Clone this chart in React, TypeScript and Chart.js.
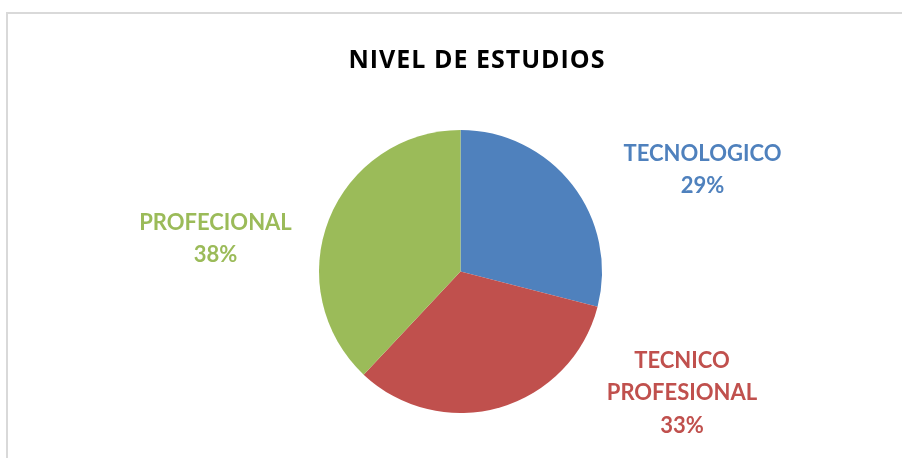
import React, { useEffect, useRef } from "react";
import { Chart, registerables } from "chart.js";

Chart.register(...registerables);

const TITLE = "NIVEL DE ESTUDIOS";
const categories = ["TECNOLOGICO", "TECNICO PROFESIONAL", "PROFECIONAL"];
const labelLines = [["TECNOLOGICO"], ["TECNICO", "PROFESIONAL"], ["PROFECIONAL"]];
const values = [29, 33, 38];
const colors = ["#4F81BD", "#C0504D", "#9BBB59"];

// label placement relative to the pie centre (x offset, first baseline offset)
const LABEL_OFFSETS: [number, number][] = [
  [242, -110.5],
  [221.5, 96.5],
  [-245, -41.5],
];
const LINE_GAP = 32.3;
const FONT = "Lato, 'Open Sans', sans-serif";
const TITLE_FONT = "'Open Sans', Lato, sans-serif";

const labelPlugin = {
  id: "outerLabels",
  afterDatasetsDraw(chart: any) {
    const ctx = chart.ctx;
    const meta = chart.getDatasetMeta(0);
    const total = values.reduce((a, b) => a + b, 0);
    ctx.save();
    // title
    ctx.fillStyle = "#000000";
    ctx.font = `bold 25px ${TITLE_FONT}`;
    ctx.textAlign = "center";
    ctx.textBaseline = "alphabetic";
    try {
      ctx.letterSpacing = "1px";
    } catch (e) {}
    ctx.fillText(TITLE, 477, 67.5);
    try {
      ctx.letterSpacing = "0px";
    } catch (e) {}
    meta.data.forEach((arc: any, i: number) => {
      const cx = arc.x;
      const cy = arc.y;
      const [dx, dy] = LABEL_OFFSETS[i];
      const lines = [...labelLines[i], `${Math.round((values[i] / total) * 100)}%`];
      ctx.fillStyle = colors[i];
      ctx.font = `bold 22px ${FONT}`;
      lines.forEach((ln, j) => {
        ctx.fillText(ln, cx + dx, cy + dy + j * LINE_GAP);
      });
    });
    ctx.restore();
  },
};

export default function App() {
  const ref = useRef<HTMLCanvasElement>(null);
  useEffect(() => {
    document.body.style.margin = "0";
    const chart = new Chart(ref.current!, {
      type: "pie",
      data: {
        labels: categories,
        datasets: [
          {
            data: values,
            backgroundColor: colors,
            borderWidth: 0,
          },
        ],
      },
      options: {
        responsive: false,
        animation: false,
        layout: { padding: { top: 130, bottom: 45, left: 200, right: 181 } },
        plugins: {
          legend: { display: false },
          title: { display: false },
          tooltip: { enabled: false },
        },
      },
      plugins: [labelPlugin],
    });
    return () => chart.destroy();
  }, []);
  return (
    <div style={{ position: "relative", width: 902, height: 458, background: "#fff", overflow: "hidden" }}>
      <div
        style={{
          position: "absolute",
          left: 6,
          top: 12,
          width: 920,
          height: 480,
          border: "2px solid #d9d9d9",
          boxSizing: "border-box",
        }}
      />
      <canvas ref={ref} width={902} height={458} style={{ position: "absolute", left: 0, top: 0 }} />
    </div>
  );
}
